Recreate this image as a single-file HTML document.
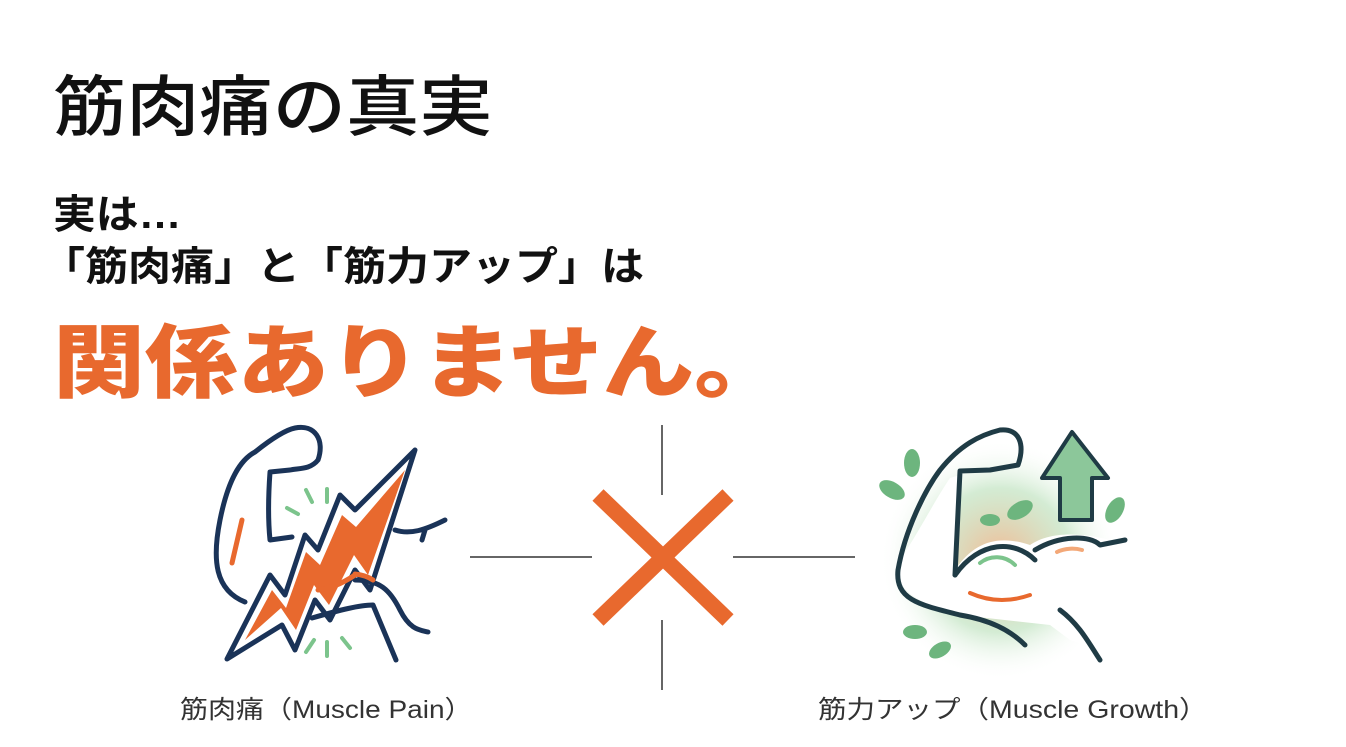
<!DOCTYPE html>
<html><head><meta charset="utf-8"><style>
body{margin:0;width:1346px;height:747px;background:#fff;overflow:hidden;position:relative;font-family:"Liberation Sans","Noto Sans CJK JP",sans-serif;color:#111}
.t{position:absolute;white-space:nowrap;transform-origin:0 0}
</style></head><body>
<div class="t" style="left:53px;top:54px;font-size:66px;font-weight:500;transform:scaleX(1.11)">筋肉痛の真実</div>
<div class="t" style="left:53px;top:182px;font-size:40px;font-weight:700;transform:scaleX(1.07)">実は…</div>
<div class="t" style="left:42px;top:234px;font-size:40px;font-weight:700;transform:scaleX(1.075)">「筋肉痛」と「筋力アップ」は</div>
<div class="t" style="left:53px;top:299px;font-size:80px;font-weight:900;color:#E8692E;transform:scaleX(1.15)">関係ありません。</div>
<div class="t" style="left:180px;top:690px;font-size:25px;color:#333;transform:scaleX(1.12)">筋肉痛（Muscle Pain）</div>
<div class="t" style="left:818px;top:690px;font-size:25px;color:#333;transform:scaleX(1.14)">筋力アップ（Muscle Growth）</div>
<svg width="1346" height="747" style="position:absolute;left:0;top:0">
<g stroke="#333" stroke-width="1.5">
<line x1="662" y1="425" x2="662" y2="495"/><line x1="662" y1="620" x2="662" y2="690"/>
<line x1="470" y1="557" x2="592" y2="557"/><line x1="733" y1="557" x2="855" y2="557"/>
</g>
<g stroke="#E8692E" stroke-width="16"><line x1="598" y1="495" x2="728" y2="620"/><line x1="728" y1="495" x2="598" y2="620"/></g>
<g fill="none" stroke="#1A3358" stroke-width="5" stroke-linecap="round" stroke-linejoin="round">
<path d="M245 602 C215 590 212 560 220 520 C228 480 240 460 255 452 C270 440 285 430 295 428 C315 424 325 440 318 460 C310 470 298 468 290 470 L270 472 C268 500 268 520 270 540 L292 537"/>
<path d="M312 618 C340 610 360 605 373 605 L396 660"/>
<path d="M355 580 C380 580 390 590 400 610 C410 630 420 630 428 632"/>
<path d="M395 530 C410 535 425 530 445 520 M425 530 L422 540"/>
<path d="M227 659 L270 575 L285 595 L305 535 L318 550 L340 495 L355 510 L415 450 L370 590 L355 570 L330 620 L315 600 L295 650 L282 625 Z"/>
</g>
<path d="M245 640 L272 590 L286 608 L306 552 L320 565 L342 515 L356 527 L405 470 L368 575 L354 555 L329 605 L314 585 L296 630 L281 608 Z" fill="#E8692E"/>
<g stroke="#E8692E" stroke-width="5" fill="none" stroke-linecap="round"><path d="M242 520 L232 563"/><path d="M355 575 C340 585 330 588 318 590"/><path d="M355 574 C365 575 370 578 373 580"/></g>
<g stroke="#7CC48C" stroke-width="4" stroke-linecap="round"><line x1="287" y1="508" x2="298" y2="514"/><line x1="306" y1="490" x2="312" y2="502"/><line x1="327" y1="489" x2="327" y2="502"/><line x1="314" y1="640" x2="306" y2="652"/><line x1="327" y1="642" x2="327" y2="656"/><line x1="342" y1="638" x2="350" y2="648"/></g>
<defs><radialGradient id="g1" cx="0.5" cy="0.5" r="0.5"><stop offset="0" stop-color="#F3A878" stop-opacity=".8"/><stop offset=".6" stop-color="#A8D8A8" stop-opacity=".5"/><stop offset="1" stop-color="#fff" stop-opacity="0"/></radialGradient></defs>
<circle cx="1000" cy="560" r="120" fill="url(#g1)"/>
<path d="M1072 432 L1108 478 L1092 478 L1092 520 L1060 520 L1060 478 L1042 478 Z" fill="#8CC79A" stroke="#1F3B45" stroke-width="4" stroke-linejoin="round"/>
<path d="M950 478 C935 500 920 530 900 560 C895 585 905 600 960 615 L1050 625 L1070 640 L1100 650 L1110 600 C1120 570 1125 545 1110 540 C1070 530 1045 535 1030 545 C1000 535 975 540 955 570 L960 475 Z" fill="#fff"/>
<g fill="none" stroke="#1F3B45" stroke-width="5" stroke-linecap="round" stroke-linejoin="round">
<path d="M1025 645 C1010 630 990 620 960 615 C920 605 895 600 898 570 C905 530 925 490 940 470 C960 445 980 435 1000 430 C1020 428 1025 445 1018 465 L990 470 L960 471 L955 575"/>
<path d="M955 575 C980 540 1015 540 1035 560"/>
<path d="M1035 550 C1060 535 1090 535 1100 545 L1125 540"/>
<path d="M1060 610 C1080 625 1090 645 1100 660"/>
</g>
<g fill="#6DB57E"><ellipse cx="912" cy="463" rx="8" ry="14"/><ellipse cx="892" cy="490" rx="14" ry="8" transform="rotate(30 892 490)"/><ellipse cx="1115" cy="510" rx="8" ry="14" transform="rotate(30 1115 510)"/><ellipse cx="990" cy="520" rx="10" ry="6"/><ellipse cx="1020" cy="510" rx="14" ry="8" transform="rotate(-30 1020 510)"/><ellipse cx="915" cy="632" rx="12" ry="7"/><ellipse cx="940" cy="650" rx="12" ry="7" transform="rotate(-30 940 650)"/></g>
<g fill="none" stroke-width="4" stroke-linecap="round"><path d="M970 593 C990 602 1010 602 1030 595" stroke="#E8692E"/><path d="M980 563 C990 555 1005 555 1015 565" stroke="#7CC48C"/><path d="M1057 552 C1065 548 1075 548 1082 550" stroke="#F3A878"/></g>
</svg>
</body></html>
